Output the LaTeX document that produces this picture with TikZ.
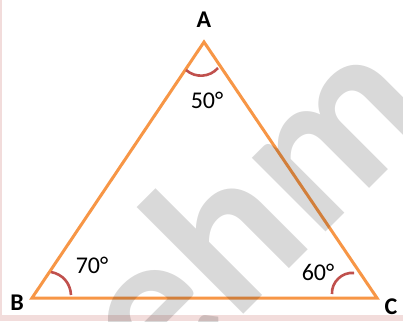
\documentclass[tikz,border=0pt]{standalone}
\usepackage{fontspec}
\setmainfont{Carlito}
\usepackage{tikz}
\usetikzlibrary{arrows.meta, positioning}
\definecolor{sideorange}{RGB}{247,150,70}
\definecolor{arcred}{RGB}{192,80,77}
\definecolor{edgepink}{RGB}{242,220,219}
\tikzset{
  side/.style={line width=3pt, sideorange, line join=miter},
  anglemark/.style={line width=2.6pt, arcred},
  vlabel/.style={inner sep=0pt, font=\fontsize{24}{28}\selectfont\bfseries},
  alabel/.style={inner sep=0pt, font=\fontsize{24}{28}\selectfont}
}

\begin{document}
\begin{tikzpicture}[x=1pt, y=-1pt]
    \useasboundingbox (0,0) rectangle (403,321);
    \fill[white] (0,0) rectangle (403,321);

    % Page edge
    \fill[edgepink] (0,0) rectangle (2,321);
    \fill[edgepink] (0,315) rectangle (403,321);

    % Triangle
    \coordinate (A) at (204,42);
    \coordinate (B) at (32,298);
    \coordinate (C) at (377,298);
    \draw[side] (A) -- (B) -- (C) -- cycle;

    % Angle marks
    \coordinate (a1) at (186,70);
    \coordinate (a2) at (218,68);
    \coordinate (b1) at (51,272);
    \coordinate (b2) at (71,295);
    \coordinate (c1) at (354,273);
    \coordinate (c2) at (332,294);
    \draw[anglemark] (a1) to[bend right=45] (a2);
    \draw[anglemark] (b1) to[bend left=38] (b2);
    \draw[anglemark] (c1) to[bend right=50] (c2);

    % Vertex names
    \node[vlabel] (labA) at (204,20) {A};
    \node[vlabel] (labB) at (17,303) {B};
    \node[vlabel] (labC) at (391,307) {C};

    % Angle values
    \node[alabel] (angA) at (207,100) {50°};
    \node[alabel] (angB) at (92,265) {70°};
    \node[alabel] (angC) at (318,272) {60°};

    % Watermark
    \begin{scope}
      \clip (0,0) rectangle (403,321);
      \node[inner sep=0pt, anchor=base, rotate=45, text=black, text opacity=0.15,
            font=\fontsize{215}{220}\selectfont\bfseries] (mark) at (299,259) {ehm};
    \end{scope}
\end{tikzpicture}
\end{document}
